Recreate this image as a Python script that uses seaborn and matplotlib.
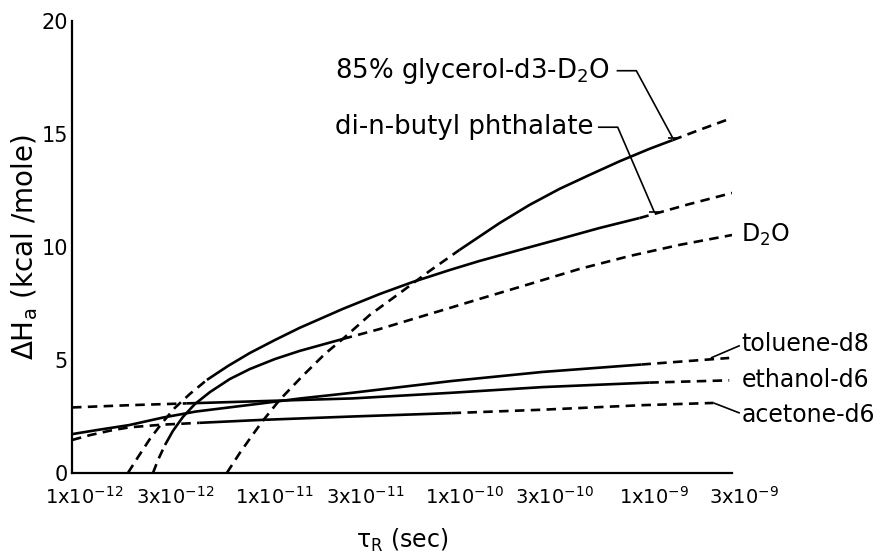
import matplotlib
matplotlib.use("Agg")
import matplotlib.pyplot as plt
import matplotlib.transforms as mtransforms
import pandas as pd
import seaborn as sns

# Rotational correlation time tau_R (s) and apparent activation enthalpy (kcal/mole)
glycerol_tau = [6.54e-12, 7.66e-12, 8.86e-12, 1.01e-11, 1.24e-11, 1.62e-11, 2.15e-11, 2.67e-11,
                3.70e-11, 5.33e-11, 7.66e-11, 1.10e-10, 1.79e-10, 2.57e-10, 3.70e-10, 5.33e-10,
                7.66e-10, 1.10e-9, 1.46e-9, 2.02e-9, 3.0e-9]
glycerol_dh = [0.0, 0.89, 1.64, 2.30, 3.23, 4.25, 5.27, 5.93,
               6.99, 7.96, 8.94, 9.87, 11.06, 11.86, 12.57, 13.19,
               13.79, 14.34, 14.73, 15.18, 15.71]
glycerol_solid = (11, 18)

phthalate_tau = [1.97e-12, 2.23e-12, 2.57e-12, 2.98e-12, 3.48e-12, 4.18e-12, 5.14e-12, 6.62e-12,
                 8.65e-12, 1.17e-11, 1.58e-11, 2.67e-11, 4.18e-11, 6.23e-11, 9.76e-11, 1.40e-10,
                 2.28e-10, 3.70e-10, 6.01e-10, 9.76e-10, 1.79e-9, 3.0e-9]
phthalate_dh = [0.0, 0.71, 1.50, 2.21, 2.88, 3.50, 4.12, 4.73,
                5.31, 5.88, 6.42, 7.26, 7.92, 8.45, 8.98, 9.38,
                9.87, 10.35, 10.84, 11.28, 11.90, 12.39]
phthalate_solid = (6, 19)

d2o_tau = [2.67e-12, 2.84e-12, 3.09e-12, 3.40e-12, 3.84e-12, 4.44e-12, 5.33e-12, 6.79e-12,
           8.65e-12, 1.17e-11, 1.58e-11, 2.67e-11, 4.18e-11, 6.23e-11, 9.76e-11, 1.40e-10,
           2.57e-10, 4.72e-10, 8.65e-10, 1.58e-9, 3.0e-9]
d2o_dh = [0.0, 0.58, 1.24, 1.86, 2.48, 3.05, 3.58, 4.16,
          4.60, 5.04, 5.40, 5.93, 6.37, 6.81, 7.30, 7.70,
          8.36, 9.03, 9.60, 10.09, 10.53]
d2o_solid = (2, 11)

toluene_tau = [1.0e-12, 1.4e-12, 2.0e-12, 3.0e-12, 4.5e-12, 1.0e-11, 1.6e-11, 3.0e-11,
               1.0e-10, 3.0e-10, 1.0e-9, 2.9e-9]
toluene_dh = [1.72, 1.92, 2.12, 2.45, 2.72, 3.08, 3.3, 3.55,
              4.07, 4.47, 4.8, 5.09]
toluene_solid = (0, 10)

ethanol_tau = [1.0e-12, 2.0e-12, 4.0e-12, 1.0e-11, 3.0e-11, 1.0e-10, 3.0e-10, 1.1e-9, 2.9e-9]
ethanol_dh = [2.9, 3.0, 3.08, 3.18, 3.3, 3.55, 3.8, 4.0, 4.1]
ethanol_solid = (2, 7)

acetone_tau = [1.0e-12, 1.25e-12, 1.6e-12, 2.0e-12, 3.0e-12, 4.7e-12, 1.0e-11, 3.0e-11,
               1.0e-10, 3.0e-10, 1.0e-9, 2.4e-9]
acetone_dh = [1.46, 1.68, 1.88, 2.02, 2.14, 2.22, 2.35, 2.5,
              2.65, 2.8, 3.0, 3.1]
acetone_solid = (5, 8)

x_ticks = [1e-12, 3e-12, 1e-11, 3e-11, 1e-10, 3e-10, 1e-9, 3e-9]
x_tick_labels = ["1x10$^{-12}$", "3x10$^{-12}$", "1x10$^{-11}$", "3x10$^{-11}$",
                 "1x10$^{-10}$", "3x10$^{-10}$", "1x10$^{-9}$", "3x10$^{-9}$"]
y_ticks = [0, 5, 10, 15, 20]

curves = {
    "glycerol": (glycerol_tau, glycerol_dh, glycerol_solid),
    "phthalate": (phthalate_tau, phthalate_dh, phthalate_solid),
    "D2O": (d2o_tau, d2o_dh, d2o_solid),
    "toluene": (toluene_tau, toluene_dh, toluene_solid),
    "ethanol": (ethanol_tau, ethanol_dh, ethanol_solid),
    "acetone": (acetone_tau, acetone_dh, acetone_solid),
}

# Split every curve into a dashed lead-in, a solid measured range and a dashed extrapolation
rows = []
for name, (tau, dh, (i0, i1)) in curves.items():
    pieces = [(0, i0, True), (i0, i1, False), (i1, len(tau) - 1, True)]
    for k, (a, b, dashed) in enumerate(pieces):
        if b <= a:
            continue
        for j in range(a, b + 1):
            rows.append({"solvent": name, "seg": k, "dashed": dashed, "tau": tau[j], "dH": dh[j]})
df = pd.DataFrame(rows)

sns.set_theme(style="white")
plt.rcParams["font.family"] = ["DejaVu Sans"]
plt.rcParams["mathtext.default"] = "regular"
plt.rcParams["text.color"] = "black"
plt.rcParams["axes.labelcolor"] = "black"

fig = plt.figure(figsize=(8.83, 5.57), dpi=100)
ax = fig.add_axes([72 / 883, 1 - 473 / 557, (732 - 72) / 883, (473 - 21) / 557])

LW = 1.9
for (name, seg), grp in df.groupby(["solvent", "seg"], sort=False):
    dashed = bool(grp["dashed"].iloc[0])
    sns.lineplot(data=grp, x="tau", y="dH", ax=ax, color="black", linewidth=LW,
                 estimator=None, sort=False, legend=False)
    ln = ax.lines[-1]
    if dashed:
        ln.set_dashes((3.6, 2.4))
        ln.set_dash_capstyle("butt")
    ln.set_solid_capstyle("butt")
    ln.set_solid_joinstyle("round")

ax.set_xscale("log")
ax.set_xlim(1e-12, 3e-9)
ax.set_ylim(0, 20)
ax.set_xticks(x_ticks)
ax.set_xticklabels(x_tick_labels)
ax.minorticks_off()
ax.set_yticks(y_ticks)
ax.set_yticklabels([str(v) for v in y_ticks])
ax.tick_params(axis="x", direction="in", length=9, width=1.4, pad=9, labelsize=14, colors="black")
ax.tick_params(axis="y", direction="in", length=8, width=1.4, pad=3, labelsize=15, colors="black")
# mantissa centred on the tick, exponent trailing to the right
shift = mtransforms.ScaledTranslation(9 / 72, 0, fig.dpi_scale_trans)
for lbl in ax.get_xticklabels():
    lbl.set_transform(lbl.get_transform() + shift)
for s in ("top", "right"):
    ax.spines[s].set_visible(False)
for s in ("left", "bottom"):
    ax.spines[s].set_linewidth(1.6)
    ax.spines[s].set_color("black")

ax.set_xlabel(r"$\tau_R$ (sec)", fontsize=17, labelpad=14)
ax.set_ylabel(r"$\Delta H_a$ (kcal /mole)", fontsize=20, labelpad=1)
ax.grid(False)

top_kw = dict(fontsize=18.7, color="black", va="center", ha="left", clip_on=False)
side_kw = dict(fontsize=17, color="black", va="center", ha="left", clip_on=False)


def leader(points):
    xs, ys = zip(*points)
    ax.plot(xs, ys, color="black", linewidth=1.2, clip_on=False, solid_capstyle="butt")


# labels with broken leaders to the end of the solid stretch
gx, gy = glycerol_tau[glycerol_solid[1]], glycerol_dh[glycerol_solid[1]]
ax.text(2.42e-11, 17.8, "85% glycerol-d3-D$_2$O", **top_kw)
leader([(7.4e-10, 17.8), (9.4e-10, 17.8), (gx, gy + 0.1)])
leader([(gx * 0.94, gy + 0.1), (gx * 1.08, gy + 0.1)])

px, py = phthalate_tau[phthalate_solid[1]], phthalate_dh[phthalate_solid[1]]
ax.text(2.42e-11, 15.3, "di-n-butyl phthalate", **top_kw)
leader([(5.9e-10, 15.3), (7.5e-10, 15.3), (px * 1.2, py + 0.25)])
leader([(px * 1.12, py + 0.25), (px * 1.28, py + 0.25)])

ax.text(3.36e-9, d2o_dh[-1], "D$_2$O", **side_kw)

leader([(toluene_tau[-1] * 0.8, toluene_dh[-1]), (3.3e-9, toluene_dh[-1] + 0.55)])
ax.text(3.36e-9, toluene_dh[-1] + 0.6, "toluene-d8", **side_kw)
ax.text(3.36e-9, ethanol_dh[-1], "ethanol-d6", **side_kw)
leader([(acetone_tau[-1], acetone_dh[-1]), (3.3e-9, acetone_dh[-1] - 0.45)])
ax.text(3.36e-9, acetone_dh[-1] - 0.55, "acetone-d6", **side_kw)

fig.savefig("out.png", dpi=100)
